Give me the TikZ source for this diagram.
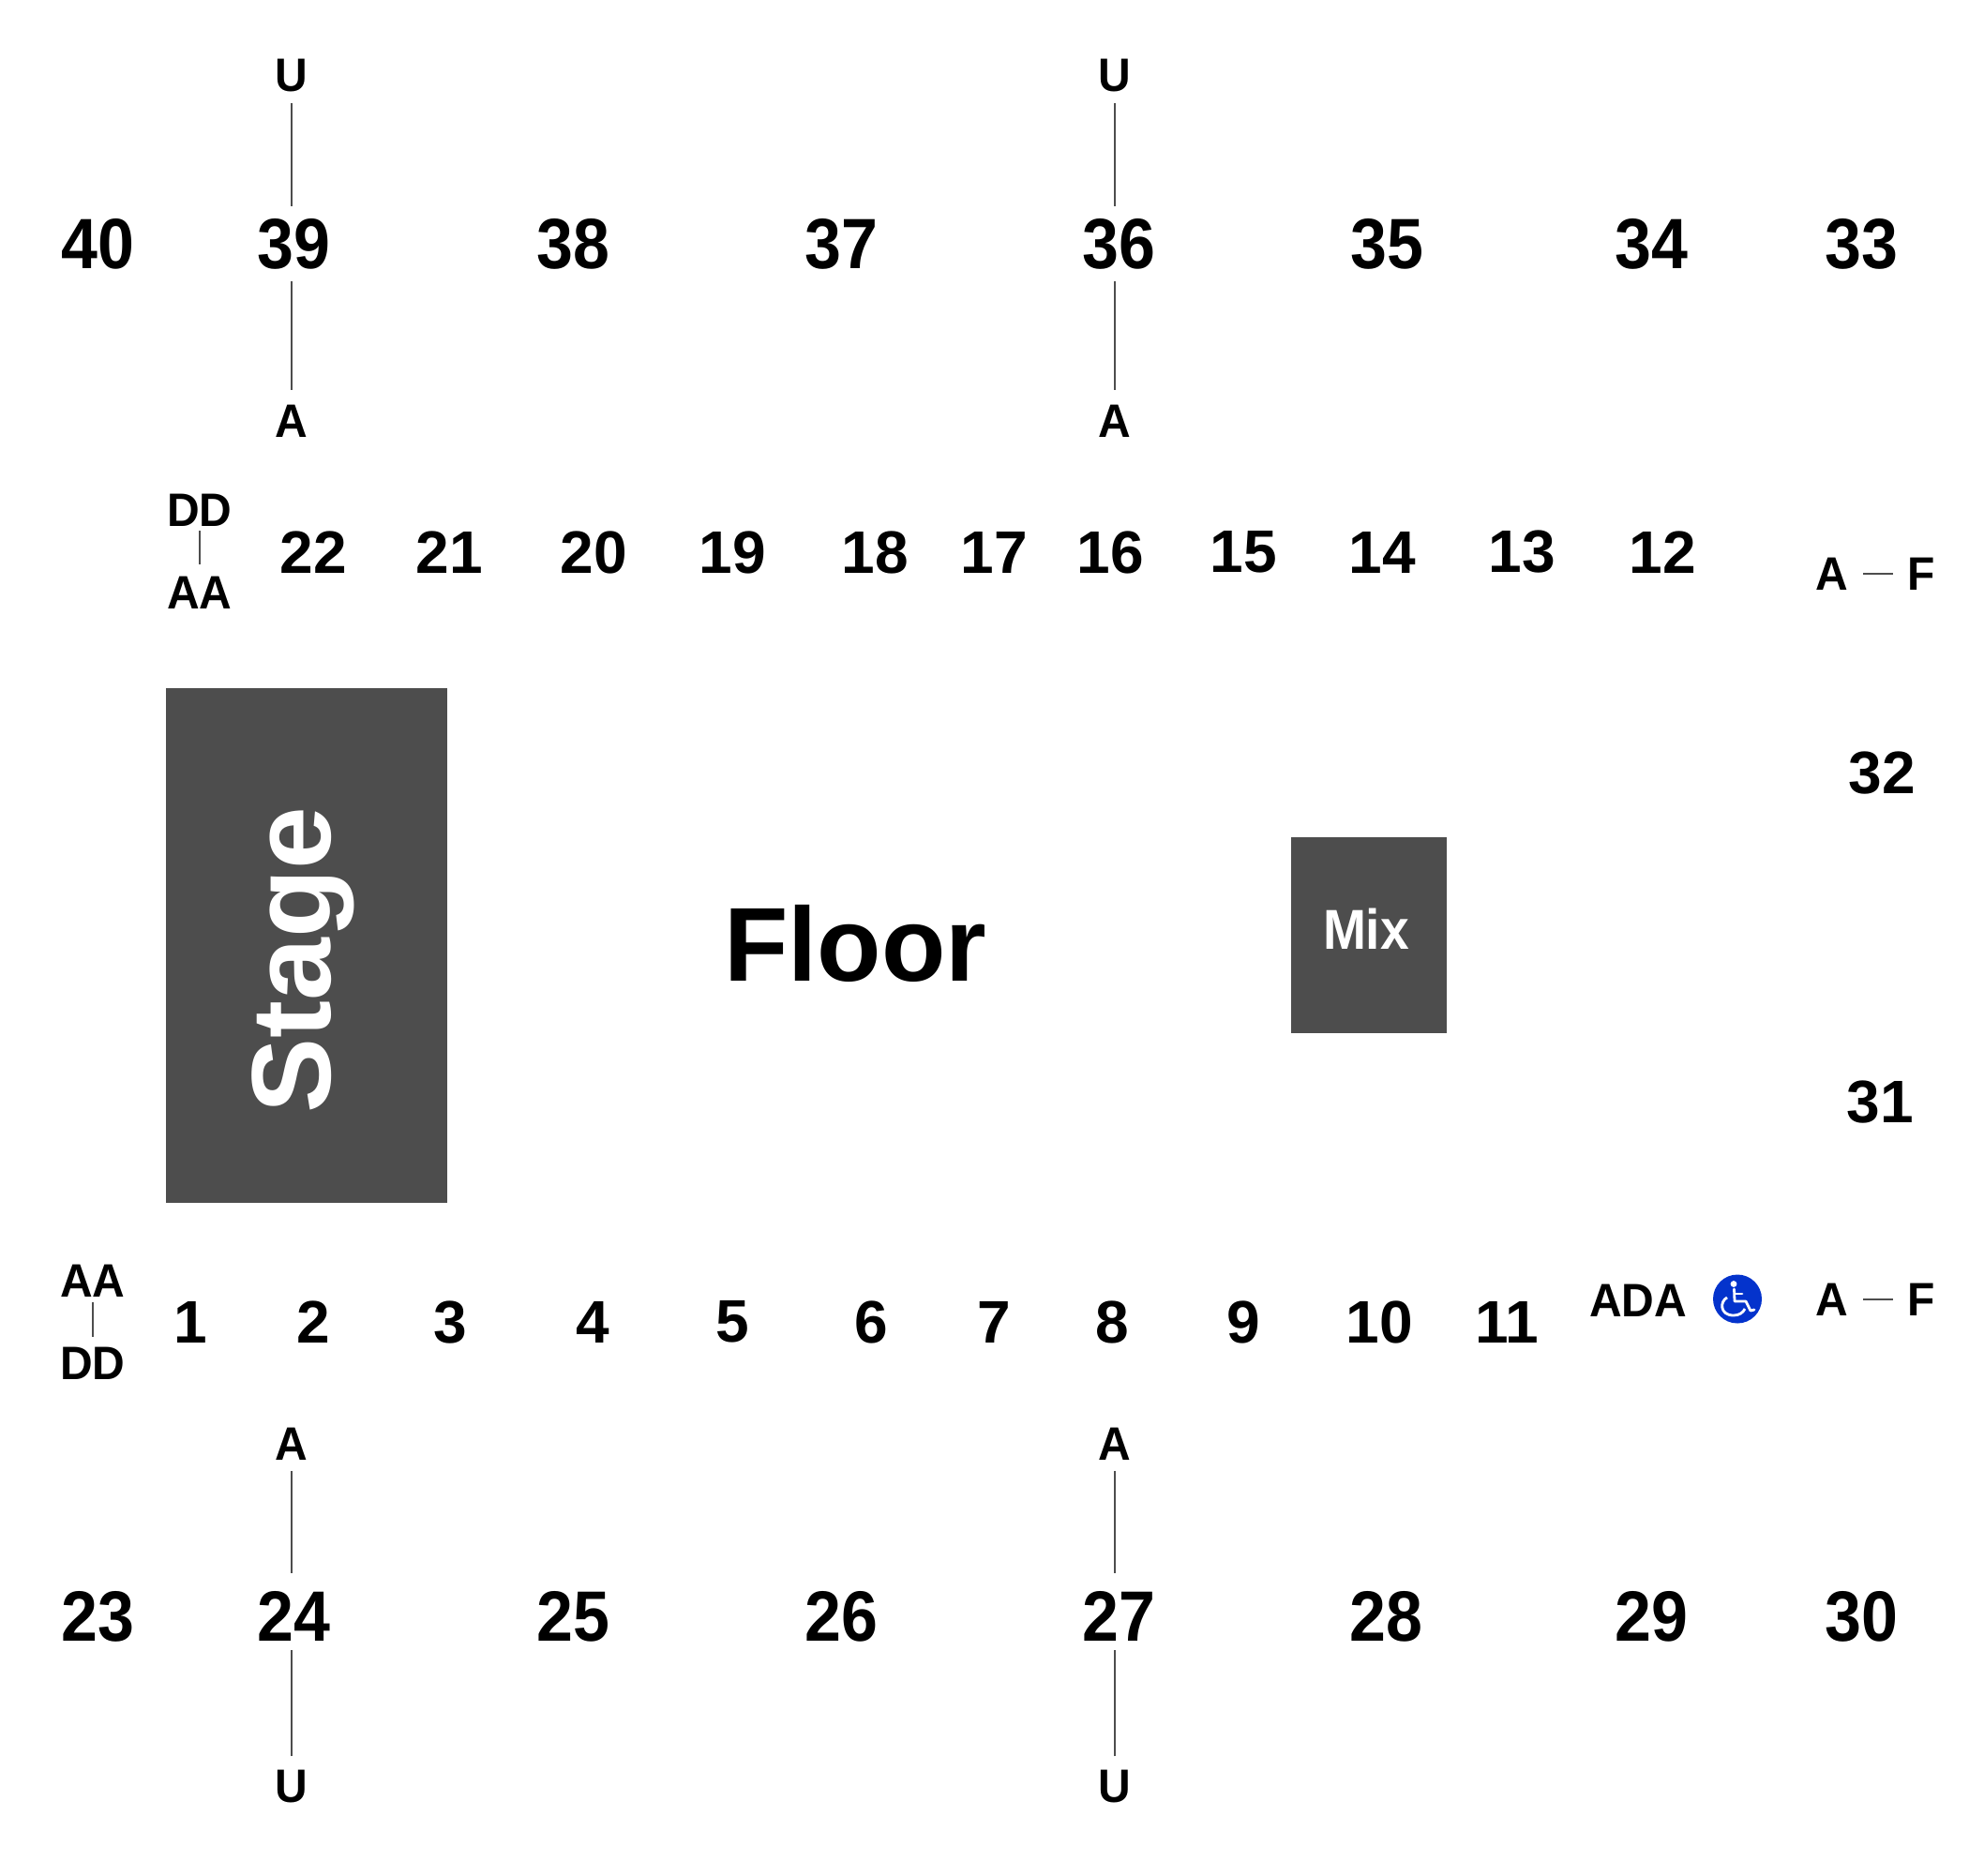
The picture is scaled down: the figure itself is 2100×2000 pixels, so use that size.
\documentclass[tikz,border=0pt]{standalone}
\usepackage{fontspec}
\setmainfont{Liberation Sans}
\newfontfamily\slimfont[FakeStretch=0.92]{Liberation Sans}
\newfontfamily\labfont[FakeStretch=0.96]{Liberation Sans}
\tikzset{
	bignum/.style = {font = \slimfont\bfseries\fontsize{76}{76}\selectfont, inner sep = 13pt, xshift = 1.5pt, yshift = 1pt},
	midnum/.style = {font = \bfseries\fontsize{64}{64}\selectfont, inner sep = 6pt, xshift = 1.5pt, yshift = 1pt},
	rowlab/.style = {font = \labfont\bfseries\fontsize{50}{50}\selectfont, inner sep = 11.5pt, yshift = 1pt},
	block/.style = {fill = darkblock, draw = none, inner sep = 0pt},
	guide/.style = {draw = darkblock, line width = 2.6pt},
	wheel/.style = {draw = white, line width = 2.8pt, line cap = round, line join = round}
}
\definecolor{darkblock}{HTML}{4D4D4D}
\definecolor{adablue}{HTML}{0433CC}
\begin{document}
\begin{tikzpicture}[x = 1pt, y = -1pt]
	\useasboundingbox (0, 0) rectangle (2100, 2000);
	% outer rows
	\node (n40) at (103, 261) [bignum] {40};
	\node (n39) at (312, 261) [bignum] {39};
	\node (n38) at (610, 261) [bignum] {38};
	\node (n37) at (896, 261) [bignum] {37};
	\node (n36) at (1192, 261) [bignum] {36};
	\node (n35) at (1478, 261) [bignum] {35};
	\node (n34) at (1760, 261) [bignum] {34};
	\node (n33) at (1984, 261) [bignum] {33};
	\node (n23) at (103, 1725) [bignum] {23};
	\node (n24) at (312, 1725) [bignum] {24};
	\node (n25) at (610, 1725) [bignum] {25};
	\node (n26) at (896, 1725) [bignum] {26};
	\node (n27) at (1192, 1725) [bignum] {27};
	\node (n28) at (1477, 1725) [bignum] {28};
	\node (n29) at (1760, 1725) [bignum] {29};
	\node (n30) at (1984, 1725) [bignum] {30};
	% row ends of the outer sections
	\node (u39) at (311, 82) [rowlab] {U};
		\draw[guide] (u39.south) -- (u39.south |- n39.north);
	\node (a39) at (311, 450) [rowlab, inner sep = 16pt] {A};
		\draw[guide] (a39.north) -- (a39.north |- n39.south);
	\node (u36) at (1189, 82) [rowlab] {U};
		\draw[guide] (u36.south) -- (u36.south |- n36.north);
	\node (a36) at (1189, 450) [rowlab, inner sep = 16pt] {A};
		\draw[guide] (a36.north) -- (a36.north |- n36.south);
	\node (a24) at (311, 1541) [rowlab] {A};
		\draw[guide, shorten > = 6pt] (a24.south) -- (a24.south |- n24.north);
	\node (u24) at (311, 1907) [rowlab, inner sep = 15pt] {U};
		\draw[guide, shorten > = -4pt] (u24.north) -- (u24.north |- n24.south);
	\node (a27) at (1189, 1541) [rowlab] {A};
		\draw[guide, shorten > = 6pt] (a27.south) -- (a27.south |- n27.north);
	\node (u27) at (1189, 1907) [rowlab, inner sep = 15pt] {U};
		\draw[guide, shorten > = -4pt] (u27.north) -- (u27.north |- n27.south);
	% inner rows
	\node (n22) at (333, 590) [midnum] {22};
	\node (n21) at (478, 590) [midnum] {21};
	\node (n20) at (632, 590) [midnum] {20};
	\node (n19) at (780, 590) [midnum] {19};
	\node (n18) at (932, 590) [midnum] {18};
	\node (n17) at (1059, 590) [midnum] {17};
	\node (n16) at (1183, 590) [midnum] {16};
	\node (n15) at (1325, 590) [midnum] {15};
	\node (n14) at (1473, 590) [midnum] {14};
	\node (n13) at (1622, 590) [midnum] {13};
	\node (n12) at (1772, 590) [midnum] {12};
	\node (n1) at (202, 1411) [midnum] {1};
	\node (n2) at (333, 1411) [midnum] {2};
	\node (n3) at (479, 1411) [midnum] {3};
	\node (n4) at (631, 1411) [midnum] {4};
	\node (n5) at (780, 1411) [midnum] {5};
	\node (n6) at (928, 1411) [midnum] {6};
	\node (n7) at (1059, 1411) [midnum] {7};
	\node (n8) at (1185, 1411) [midnum] {8};
	\node (n9) at (1325, 1411) [midnum] {9};
	\node (n10) at (1470, 1411) [midnum] {10};
	\node (n11) at (1606, 1411) [midnum] {11};
	\node (n32) at (2006, 826) [midnum] {32};
	\node (n31) at (2004, 1176) [midnum] {31};
	% row ranges
	\node (dd22) at (213, 545) [rowlab, inner sep = 5pt] {DD};
	\node (aa22) at (213, 633) [rowlab, inner sep = 13pt] {AA};
		\draw[guide] (dd22.south) -- (aa22.north);
	\node (aa1) at (99, 1367) [rowlab, inner sep = 6pt] {AA};
	\node (dd1) at (99, 1455) [rowlab, inner sep = 11pt] {DD};
		\draw[guide] (aa1.south) -- (dd1.north);
	\node (a12) at (1954, 613) [rowlab, inner sep = 15.5pt] {A};
	\node (f12) at (2049, 613) [rowlab, inner sep = 15.5pt] {F};
		\draw[guide] (a12.east) -- (f12.west);
	\node (a11) at (1954, 1387) [rowlab, inner sep = 15.5pt] {A};
	\node (f11) at (2049, 1387) [rowlab, inner sep = 15.5pt] {F};
		\draw[guide] (a11.east) -- (f11.west);
	% blocks
	\node (stage) at (327, 1008.5) [block, minimum width = 300pt, minimum height = 549pt] {};
	\node at (323, 1024) [rotate = 90, text = white, font = \bfseries\fontsize{120}{120}\selectfont] {Stage};
	\node (mix) at (1460, 997) [block, minimum width = 166pt, minimum height = 209pt] {};
	\node at (1457, 991) [text = white, font = \slimfont\bfseries\fontsize{60}{60}\selectfont] {Mix};
	\node (floor) at (912, 1006) [font = \bfseries\fontsize{112}{112}\selectfont] {Floor};
	% accessible seating
	\node (ada) at (1747, 1388) [rowlab] {ADA};
	\fill[adablue] (1853, 1385.5) circle (26);
	\fill[white] (1849, 1369.5) circle (3.4);
	\draw[wheel] (1849.5, 1375) -- (1850, 1388) -- (1862, 1388) -- (1867, 1398) -- (1871, 1397);
	\draw[wheel] (1850, 1380) -- (1858, 1380);
	\draw[wheel, line cap = butt] (1842, 1384) .. controls (1834, 1388) and (1834, 1403) .. (1849, 1403) .. controls (1855, 1403) and (1859, 1400) .. (1861, 1396);
\end{tikzpicture}
\end{document}
